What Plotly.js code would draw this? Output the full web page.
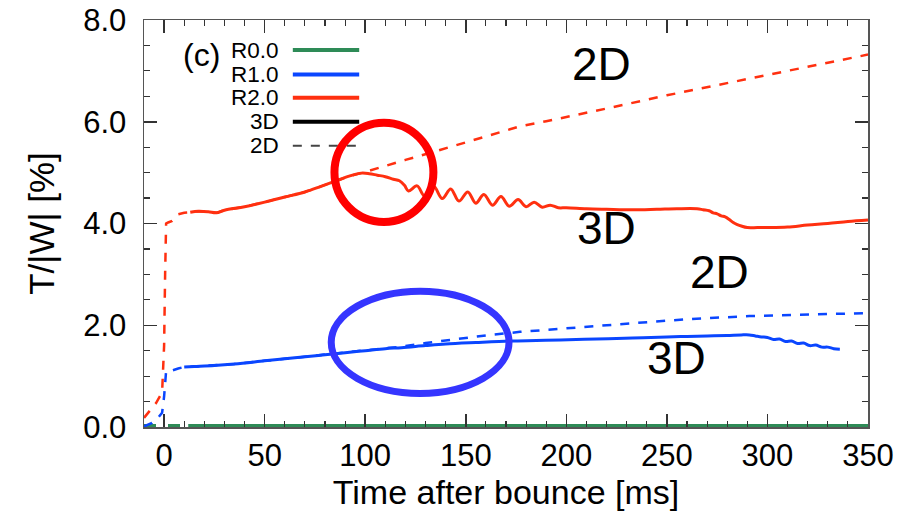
<!DOCTYPE html>
<html>
<head>
<meta charset="utf-8">
<script src="https://cdn.plot.ly/plotly-3.0.1.min.js"></script>
<style>html,body{margin:0;padding:0;background:#fff;}#chart{width:912px;height:526px;}</style>
</head>
<body>
<div id="chart"></div>
<script>
// ---- data ----
const r2_3d_t = [13,17,22,26,30,40,50,60,70,78,85,92,98,102,106,110,114,117,119.5,121.5,125.8,129.5,134,138.3,142.5,146.6,151,155,159,163.3,167.5,171.6,176,180,184,188,192,196,200,210,220,233,245,255,265,268,271,273,275,277,279,281,283,285,287,290,295,300,310,320,330,340,350];
const r2_3d_v = [4.22,4.24,4.23,4.21,4.26,4.33,4.42,4.52,4.62,4.73,4.83,4.93,4.99,4.98,4.95,4.92,4.87,4.84,4.75,4.64,4.74,4.54,4.73,4.49,4.68,4.44,4.62,4.40,4.57,4.36,4.53,4.34,4.47,4.33,4.42,4.32,4.36,4.31,4.31,4.29,4.28,4.27,4.28,4.29,4.29,4.27,4.25,4.21,4.19,4.15,4.13,4.08,4.02,3.98,3.95,3.92,3.92,3.92,3.93,3.97,4.00,4.04,4.07];

const r2_2d_t = [-10,-7,-4,-1,0,0.5,1,2,4,7,10,13,17,22,26,30,40,50,60,70,78,85,92,98,102,110,120,135,150,165,177,190,200,220,250,275,300,325,350];
const r2_2d_v = [0.18,0.32,0.47,0.68,1.6,3.0,4.0,4.02,4.05,4.18,4.21,4.22,4.24,4.23,4.21,4.26,4.33,4.42,4.52,4.62,4.73,4.83,4.93,4.99,5.04,5.13,5.25,5.42,5.60,5.77,5.91,6.01,6.09,6.26,6.52,6.72,6.92,7.12,7.32];

const r1_3d_t = [10,15,25,35,50,65,78,90,100,110,118,130,140,155,172,185,197,215,233,250,260,270,280,287,291,294,297,300,303,306,309,312,315,318,321,324,327,330,333,336];
const r1_3d_v = [1.18,1.19,1.21,1.24,1.30,1.36,1.41,1.46,1.50,1.54,1.56,1.60,1.63,1.66,1.69,1.70,1.71,1.73,1.75,1.77,1.78,1.79,1.80,1.81,1.81,1.79,1.77,1.76,1.72,1.73,1.68,1.69,1.64,1.65,1.60,1.61,1.57,1.57,1.54,1.53];

const r1_2d_t = [-10,-6,-3,-1,0,0.5,1,2,4,7,10,15,25,35,50,65,78,90,100,110,118,130,140,150,160,177,197,215,233,260,291,320,350];
const r1_2d_v = [0.01,0.08,0.18,0.28,0.6,0.9,1.10,1.10,1.11,1.15,1.18,1.19,1.21,1.24,1.30,1.36,1.41,1.46,1.50,1.54,1.58,1.65,1.70,1.75,1.80,1.87,1.93,1.99,2.05,2.12,2.18,2.21,2.24];

const r0_3d_t = [12,100,200,300,350];
const r0_3d_v = [0.02,0.02,0.02,0.02,0.02];
const r0_2d_t = [-10,0,10];
const r0_2d_v = [0.02,0.02,0.02];

const legendLabels = ['R0.0','R1.0','R2.0','3D','2D'];
const panelLabel = '(c)';
const xTitle = 'Time after bounce [ms]';
const yTitle = 'T/|W| [%]';
const yTickVals = [0,2,4,6,8];
const yTickText = ['0.0','2.0','4.0','6.0','8.0'];

// ---- styles ----
const GREEN = '#2e8b57', BLUE = '#0a46ff', RED = '#ff3010';
const FONT = 'Liberation Sans, Arial, Helvetica, sans-serif';

function tr(x, y, color, dash, width, shape) {
  return {x: x, y: y, type: 'scatter', mode: 'lines', showlegend: false, hoverinfo: 'skip',
          line: {color: color, dash: dash, width: width, shape: shape || 'linear', smoothing: 1}};
}

const data = [
  tr(r0_2d_t, r0_2d_v, GREEN, 'dash', 4),
  tr(r0_3d_t, r0_3d_v, GREEN, 'solid', 4),
  tr(r1_2d_t, r1_2d_v, BLUE, 'dash', 2.5),
  tr(r1_3d_t, r1_3d_v, BLUE, 'solid', 3, 'spline'),
  tr(r2_2d_t, r2_2d_v, RED, 'dash', 2.5),
  tr(r2_3d_t, r2_3d_v, RED, 'solid', 3, 'spline')
];

// legend built from shapes + annotations (text left of sample line)
const legRows = [7.41, 6.93, 6.47, 6.00, 5.53];
const legColors = [GREEN, BLUE, RED, '#000', '#444'];
const legDash = ['solid','solid','solid','solid','dash'];
const legWidth = [4,4,4,4,2];
const shapes = [];
const annotations = [];
legRows.forEach((y, i) => {
  shapes.push({type:'line', xref:'x', yref:'y', x0:64, x1:97, y0:y, y1:y,
               line:{color:legColors[i], width:legWidth[i], dash:legDash[i]}});
  annotations.push({xref:'x', yref:'y', x:58, y:y, text:legendLabels[i], showarrow:false,
                    xanchor:'right', yanchor:'middle', font:{family:FONT, size:22.5, color:'#000'}});
});
annotations.push({xref:'x', yref:'y', x:18.7, y:7.32, text:panelLabel, showarrow:false,
                  xanchor:'center', yanchor:'middle', font:{family:FONT, size:32, color:'#000'}});

// big labels
[['2D',217.3,7.13],['3D',219.8,3.92],['2D',276.4,3.04],['3D',255.0,1.36]].forEach(a => {
  annotations.push({xref:'x', yref:'y', x:a[1], y:a[2], text:a[0], showarrow:false,
                    xanchor:'center', yanchor:'middle', font:{family:FONT, size:46, color:'#000'}});
});

// highlight circles
shapes.push({type:'circle', xref:'x', yref:'y', x0:84.7, x1:133.9, y0:4.03, y1:5.98,
             line:{color:'#ff0000', width:8}});
shapes.push({type:'circle', xref:'x', yref:'y', x0:83.1, x1:171.5, y0:0.66, y1:2.67,
             line:{color:'#3535ff', width:7}});

const axCommon = {
  showline: true, linecolor: '#555', linewidth: 1.5, mirror: 'ticks',
  ticks: 'inside', ticklen: 13, tickwidth: 1.5, tickcolor: '#333',
  showgrid: false, zeroline: false,
  tickfont: {family: FONT, size: 31, color: '#000'}
};

const layout = {
  width: 912, height: 526,
  margin: {l: 144, r: 44, t: 20, b: 99},
  paper_bgcolor: '#fff', plot_bgcolor: '#fff',
  showlegend: false,
  xaxis: Object.assign({}, axCommon, {
    range: [-10, 350], tick0: 0, dtick: 50, ticklabelstandoff: 0,
    minor: {ticks: 'inside', ticklen: 6, tickwidth: 1.2, tickcolor: '#333', dtick: 10, tick0: 0, showgrid: false},
    title: {text: xTitle, font: {family: FONT, size: 34, color: '#000'}, standoff: 8}
  }),
  yaxis: Object.assign({}, axCommon, {
    range: [0, 8], tickvals: yTickVals, ticktext: yTickText, ticklabelstandoff: 10,
    minor: {ticks: 'inside', ticklen: 6, tickwidth: 1.2, tickcolor: '#333', dtick: 0.5, tick0: 0, showgrid: false},
    title: {text: yTitle, font: {family: FONT, size: 35, color: '#000'}, standoff: 18}
  }),
  shapes: shapes,
  annotations: annotations
};

Plotly.newPlot('chart', data, layout, {staticPlot: true, displayModeBar: false});
</script>
</body>
</html>
